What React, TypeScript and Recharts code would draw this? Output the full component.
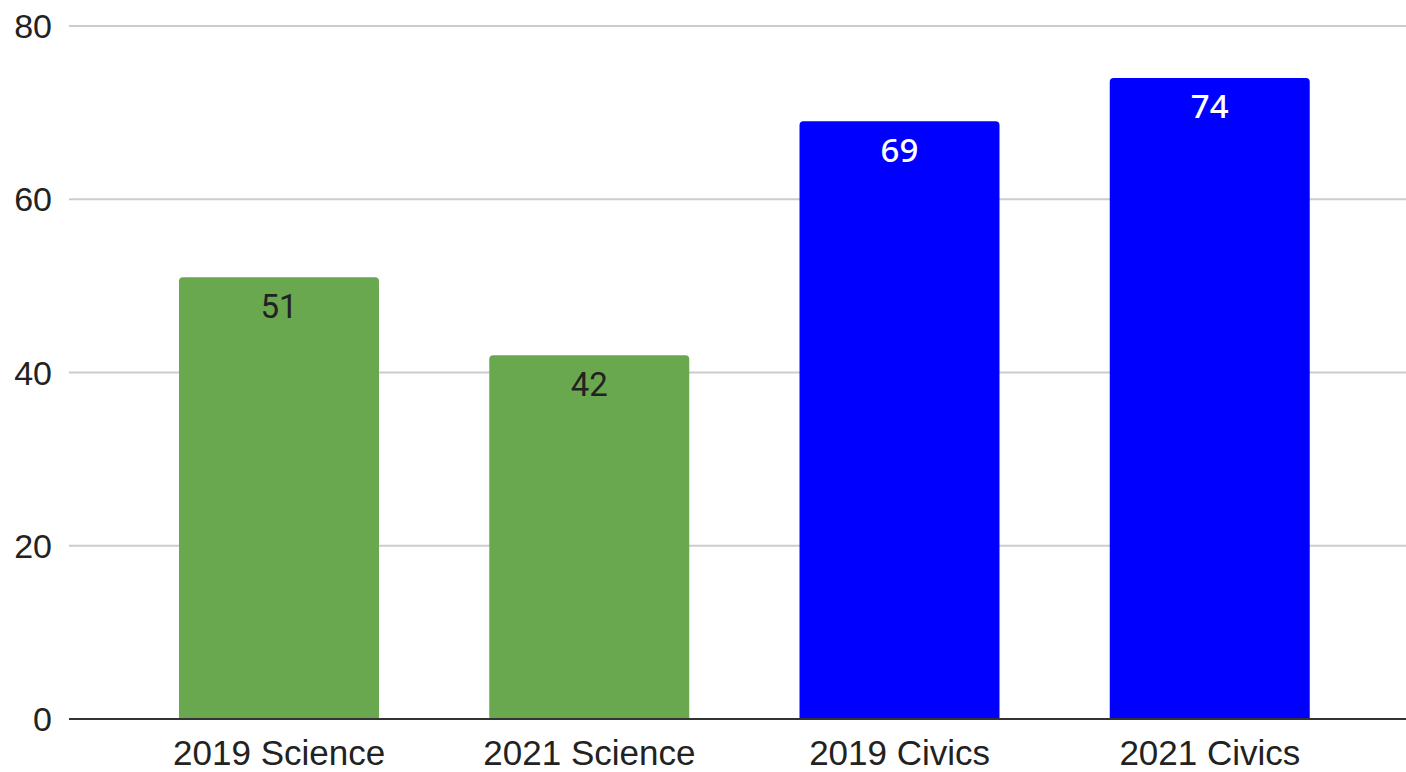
import { BarChart, Bar, XAxis, YAxis, CartesianGrid, Cell, LabelList } from 'recharts'

const categories = ['2019 Science', '2021 Science', '2019 Civics', '2021 Civics']
const values = [51, 42, 69, 74]
const barColors = ['#6aa84f', '#6aa84f', '#0000ff', '#0000ff']
const labelColors = ['#222222', '#222222', '#ffffff', '#ffffff']
const yTicks = [0, 20, 40, 60, 80]

const data = categories.map((name, i) => ({ name, value: values[i] }))

function ValueLabel(props: any) {
  const { x, y, width, value, index } = props
  const light = index >= 2
  return (
    <text
      x={x + width / 2}
      y={y + 17}
      dy="0.71em"
      textAnchor="middle"
      fill={labelColors[index]}
      fontFamily={light ? 'Noto Sans' : 'Roboto'}
      fontWeight={light ? 500 : 400}
      fontSize={33}
    >
      {value}
    </text>
  )
}

export default function App() {
  return (
    <div style={{ position: 'absolute', left: 0, top: 0, background: '#fff' }}>
      <BarChart width={1406} height={772} data={data} margin={{ top: 26, right: 0, bottom: 0, left: 0 }}>
        <CartesianGrid vertical={false} stroke="#cccccc" strokeWidth={2} />
        <XAxis
          dataKey="name"
          padding={{ left: 55, right: 41 }}
          height={53}
          tickLine={false}
          tickSize={0}
          tickMargin={21}
          axisLine={{ stroke: '#333333', strokeWidth: 2 }}
          tick={{ fill: '#222222', fontSize: 35, fontFamily: 'Liberation Sans, Arial' }}
        />
        <YAxis
          domain={[0, 80]}
          ticks={yTicks}
          width={69}
          axisLine={false}
          tickLine={false}
          tickSize={0}
          tickMargin={17}
          tick={{ fill: '#222222', fontSize: 34, fontFamily: 'Liberation Sans, Arial' }}
        />
        <Bar dataKey="value" barSize={200} radius={[4, 4, 0, 0]} isAnimationActive={false}>
          {data.map((_, i) => (
            <Cell key={`c-${i}`} fill={barColors[i]} />
          ))}
          <LabelList dataKey="value" content={<ValueLabel />} />
        </Bar>
      </BarChart>
    </div>
  )
}
